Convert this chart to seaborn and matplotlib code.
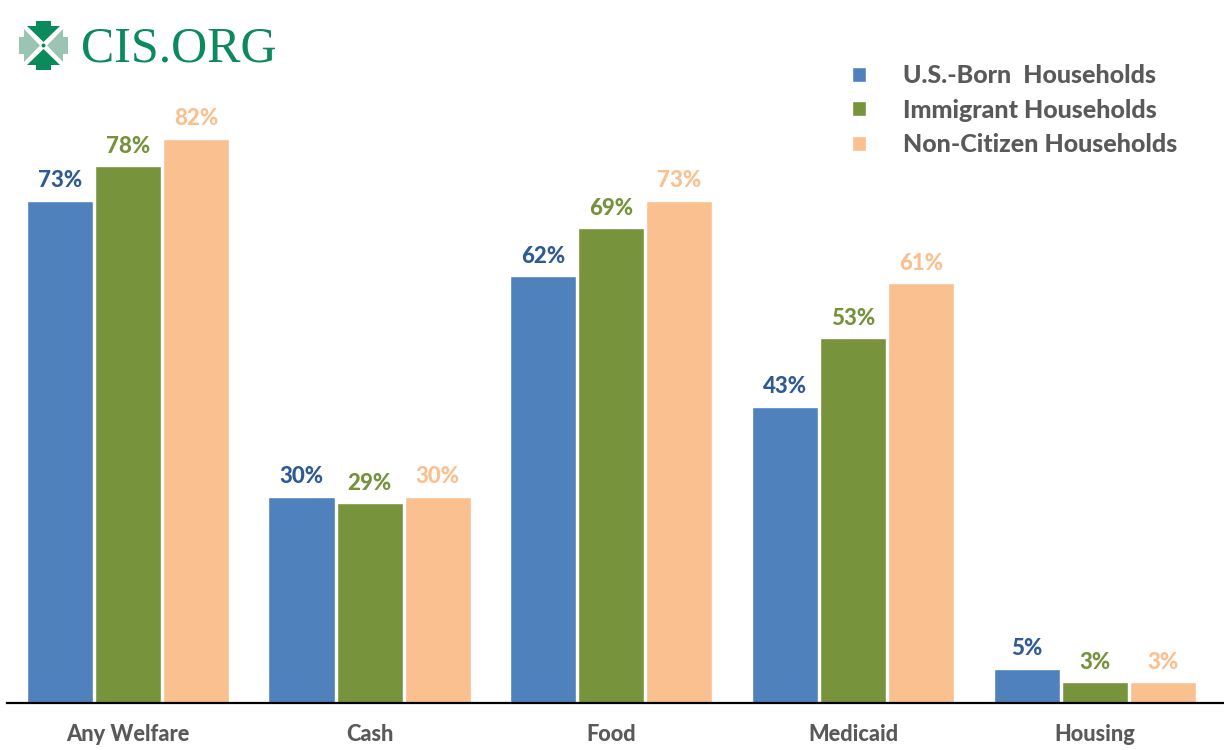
import matplotlib
matplotlib.use("Agg")
import matplotlib.pyplot as plt
from matplotlib.patches import Polygon, Circle
import pandas as pd
import seaborn as sns

categories = ["Any Welfare", "Cash", "Food", "Medicaid", "Housing"]
us_born = [73, 30, 62, 43, 5]
immigrant = [78, 29, 69, 53, 3]
non_citizen = [82, 30, 73, 61, 3]

series_names = ["U.S.-Born  Households", "Immigrant Households", "Non-Citizen Households"]
bar_colors = ["#4F81BD", "#77933C", "#FAC090"]
label_colors = ["#2F5A94", "#76923C", "#FAC090"]
GRAY = "#595959"
W, H = 1224, 750
TEXT_WEIGHT = 900

sns.set_theme(style="white")
plt.rcParams["font.family"] = ["Lato", "DejaVu Sans"]

rows = []
for name, vals in zip(series_names, [us_born, immigrant, non_citizen]):
    for cat, v in zip(categories, vals):
        rows.append({"category": cat, "series": name, "share": v})
df = pd.DataFrame(rows)

fig = plt.figure(figsize=(W / 100, H / 100), dpi=100, facecolor="white")
ax = fig.add_axes([7 / W, (H - 703) / H, (W - 7) / W, 640 / H])

sns.barplot(data=df, x="category", y="share", hue="series", order=categories,
            hue_order=series_names, palette=bar_colors, width=0.845, gap=0.03,
            saturation=1, ax=ax, legend=True, errorbar=None)

ax.set_xlim(-0.5, 4.535)
ax.set_ylim(0, 640 / 6.88)
ax.set_xlabel("")
ax.set_ylabel("")
ax.set_yticks([])
ax.tick_params(axis="x", length=0, pad=15, labelsize=15.7, labelcolor=GRAY)
for t in ax.get_xticklabels():
    t.set_fontweight(TEXT_WEIGHT)
for s in ["top", "left", "right"]:
    ax.spines[s].set_visible(False)
ax.spines["bottom"].set_color("black")
ax.spines["bottom"].set_linewidth(1.6)

for container, col in zip(ax.containers, label_colors):
    ax.bar_label(container, fmt="%d%%", padding=7, color=col, fontsize=16, fontweight=TEXT_WEIGHT)

leg = ax.legend(loc="upper left", bbox_to_anchor=((852 - 7) / (W - 7), 1 - (64 - 63) / 640),
                frameon=False, handlelength=0.56, handleheight=0.56,
                handletextpad=1.48, labelspacing=0.46, borderpad=0, borderaxespad=0,
                labelcolor=GRAY, prop={"weight": TEXT_WEIGHT, "size": 18})

# Logo mark and wordmark, laid out in pixel coordinates
logo = fig.add_axes([0, 0, 1, 1], facecolor="none")
logo.set_xlim(0, W)
logo.set_ylim(H, 0)
logo.axis("off")
DARK = "#0B8A5C"
LIGHT = "#9CC4B2"
logo.add_patch(Polygon([(36, 21), (51, 21), (51, 26), (60, 26), (43.5, 42), (27, 26), (36, 26)], color=DARK, lw=0))
logo.add_patch(Polygon([(36, 70), (51, 70), (51, 65), (60, 65), (43.5, 49), (27, 65), (36, 65)], color=DARK, lw=0))
logo.add_patch(Polygon([(19, 37), (24, 37), (24, 29), (40, 45.5), (24, 62), (24, 54), (19, 54)], color=LIGHT, lw=0))
logo.add_patch(Polygon([(68, 37), (63, 37), (63, 29), (47, 45.5), (63, 62), (63, 54), (68, 54)], color=LIGHT, lw=0))
logo.add_patch(Circle((43.5, 45.5), 2, color=DARK, lw=0))
logo.text(81, 62, "CIS.ORG", family="Liberation Serif", fontsize=36, color=DARK, va="baseline", ha="left")

fig.savefig("out.png", dpi=100, facecolor="white")
